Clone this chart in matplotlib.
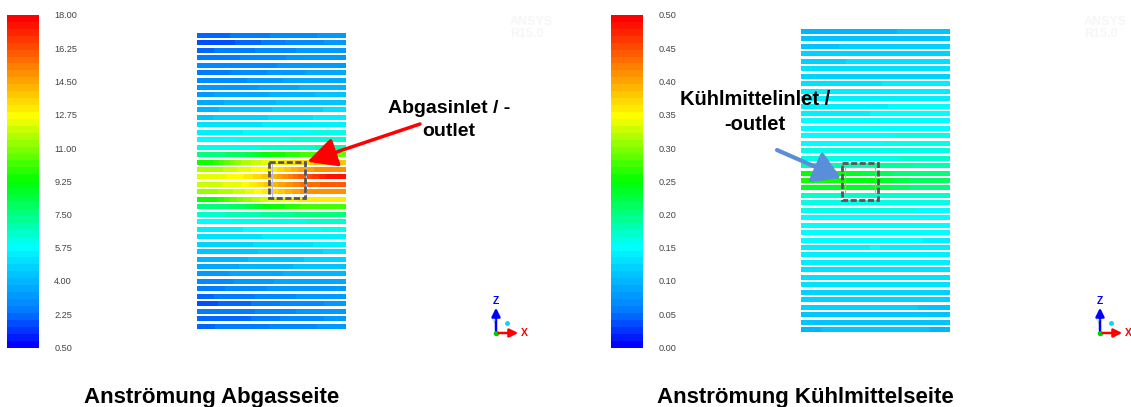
import numpy as np
import matplotlib
matplotlib.use("Agg")
import matplotlib.pyplot as plt
from matplotlib.colors import LinearSegmentedColormap, Normalize
from matplotlib.colorbar import ColorbarBase
from matplotlib.patches import Rectangle

plt.rcParams['font.family'] = ['Liberation Sans', 'DejaVu Sans']

W, H = 1131, 407

## data: stripe values (5 samples from left to right along each stripe)
gas_rows = [
    [2.2, 2.4, 2.7, 3.0, 3.1],
    [1.8, 2.0, 2.5, 2.9, 3.1],
    [2.3, 2.6, 2.8, 3.1, 3.2],
    [2.5, 2.7, 2.9, 3.2, 3.3],
    [2.7, 2.8, 3.0, 3.3, 3.4],
    [2.5, 2.8, 3.1, 3.4, 3.5],
    [2.8, 3.0, 3.3, 3.6, 3.7],
    [3.1, 3.3, 3.5, 3.8, 3.9],
    [3.4, 3.6, 3.8, 4.1, 4.2],
    [3.7, 3.9, 4.1, 4.4, 4.5],
    [4.1, 4.3, 4.5, 4.8, 4.9],
    [4.5, 4.7, 4.9, 5.2, 5.3],
    [4.9, 5.1, 5.3, 5.5, 5.6],
    [5.4, 5.6, 5.7, 5.9, 6.1],
    [5.8, 6.0, 6.2, 6.4, 6.6],
    [6.0, 6.2, 6.4, 6.6, 6.8],
    [7.6, 8.0, 9.3, 10.0, 10.5],
    [9.5, 11.5, 12.5, 13.5, 13.8],
    [11.5, 12.3, 13.0, 14.5, 15.0],
    [12.3, 12.8, 14.0, 16.0, 17.5],
    [12.0, 12.5, 14.0, 15.5, 16.0],
    [11.3, 12.0, 13.3, 14.8, 15.0],
    [9.3, 11.0, 12.3, 13.0, 13.2],
    [7.5, 8.0, 9.3, 10.0, 10.3],
    [6.6, 6.8, 7.2, 7.5, 7.6],
    [5.9, 6.0, 6.1, 6.3, 6.5],
    [5.5, 5.6, 5.7, 5.9, 6.0],
    [5.0, 5.1, 5.3, 5.5, 5.6],
    [4.7, 4.8, 5.0, 5.2, 5.3],
    [4.3, 4.4, 4.6, 4.8, 4.9],
    [3.9, 4.1, 4.3, 4.5, 4.6],
    [3.6, 3.8, 4.0, 4.2, 4.3],
    [3.3, 3.5, 3.7, 3.9, 4.0],
    [2.9, 3.1, 3.4, 3.6, 3.7],
    [2.6, 2.8, 3.1, 3.3, 3.4],
    [2.3, 2.6, 2.8, 3.1, 3.2],
    [1.9, 2.2, 2.6, 2.9, 3.1],
    [2.4, 2.6, 2.8, 3.1, 3.2],
    [2.0, 2.2, 2.6, 2.9, 3.1],
    [2.3, 2.5, 2.7, 3.0, 3.1],
]

cool_rows = [
    [0.100, 0.100, 0.102, 0.105, 0.105],
    [0.108, 0.110, 0.110, 0.112, 0.112],
    [0.113, 0.115, 0.115, 0.117, 0.117],
    [0.118, 0.120, 0.120, 0.122, 0.122],
    [0.123, 0.125, 0.125, 0.127, 0.127],
    [0.128, 0.130, 0.130, 0.132, 0.132],
    [0.115, 0.118, 0.120, 0.122, 0.122],
    [0.133, 0.135, 0.135, 0.137, 0.137],
    [0.138, 0.140, 0.140, 0.142, 0.142],
    [0.138, 0.140, 0.141, 0.142, 0.142],
    [0.143, 0.145, 0.145, 0.147, 0.147],
    [0.143, 0.145, 0.146, 0.147, 0.147],
    [0.148, 0.150, 0.150, 0.152, 0.152],
    [0.148, 0.150, 0.151, 0.152, 0.152],
    [0.153, 0.155, 0.155, 0.157, 0.157],
    [0.153, 0.155, 0.156, 0.157, 0.157],
    [0.158, 0.160, 0.160, 0.162, 0.162],
    [0.163, 0.165, 0.165, 0.167, 0.167],
    [0.180, 0.180, 0.190, 0.190, 0.180],
    [0.240, 0.240, 0.220, 0.200, 0.200],
    [0.250, 0.250, 0.245, 0.220, 0.210],
    [0.235, 0.240, 0.230, 0.210, 0.200],
    [0.170, 0.170, 0.172, 0.170, 0.168],
    [0.160, 0.160, 0.162, 0.160, 0.158],
    [0.157, 0.158, 0.158, 0.157, 0.155],
    [0.155, 0.155, 0.156, 0.155, 0.153],
    [0.152, 0.153, 0.153, 0.152, 0.150],
    [0.150, 0.150, 0.151, 0.150, 0.148],
    [0.147, 0.148, 0.148, 0.147, 0.145],
    [0.145, 0.145, 0.146, 0.145, 0.143],
    [0.140, 0.141, 0.142, 0.141, 0.140],
    [0.137, 0.138, 0.138, 0.137, 0.136],
    [0.133, 0.134, 0.135, 0.134, 0.133],
    [0.130, 0.131, 0.131, 0.130, 0.129],
    [0.126, 0.127, 0.128, 0.127, 0.126],
    [0.122, 0.123, 0.124, 0.123, 0.122],
    [0.118, 0.119, 0.120, 0.119, 0.118],
    [0.115, 0.116, 0.116, 0.115, 0.114],
    [0.111, 0.112, 0.113, 0.112, 0.111],
    [0.108, 0.109, 0.110, 0.109, 0.108],
    [0.104, 0.105, 0.106, 0.105, 0.104],
]

gas_ticks = [0.50, 2.25, 4.00, 5.75, 7.50, 9.25, 11.00, 12.75, 14.50, 16.25, 18.00]
gas_ticklabels = ['0.50', '2.25', '4.00', '5.75', '7.50', '9.25', '11.00', '12.75', '14.50', '16.25', '18.00']
cool_ticks = [0.00, 0.05, 0.10, 0.15, 0.20, 0.25, 0.30, 0.35, 0.40, 0.45, 0.50]
cool_ticklabels = ['0.00', '0.05', '0.10', '0.15', '0.20', '0.25', '0.30', '0.35', '0.40', '0.45', '0.50']

titles = ['Anströmung Abgasseite', 'Anströmung Kühlmittelseite']
notes = ['Abgasinlet / -\noutlet', 'Kühlmittelinlet /\n-outlet']

## colormap (ANSYS rainbow, banded)
cmap = LinearSegmentedColormap.from_list('ansys', [
    (0.0, '#0000ff'), (0.1, '#0078ff'), (0.3, '#00ffff'), (0.5, '#00ff00'),
    (0.7, '#ffff00'), (0.85, '#ff8000'), (1.0, '#ff0000')], N=48)


def rect(x0, y0, x1, y1):
    # pixel box (top-left origin) -> figure fraction rect
    return [x0 / W, 1 - y1 / H, (x1 - x0) / W, (y1 - y0) / H]


def ffrac(x, y):
    return (x / W, 1 - y / H)


fig = plt.figure(figsize=(W / 100, H / 100), dpi=100)


def colorbar(x0, vmin, vmax, ticks, labels):
    cax = fig.add_axes(rect(x0, 15, x0 + 32, 347.5))
    cb = ColorbarBase(cax, cmap=cmap, norm=Normalize(vmin, vmax), orientation='vertical')
    cb.outline.set_visible(False)
    cb.set_ticks(ticks)
    cb.set_ticklabels(labels)
    cax.tick_params(length=0, pad=11, labelsize=6.6, labelcolor='#444444')


def stripes(box, rows, vmin, vmax):
    ax = fig.add_axes(rect(*box))
    n = len(rows)
    norm = Normalize(vmin, vmax)
    for i, vals in enumerate(rows):
        ax.imshow(np.array([vals]), extent=(0, 1, i + 0.27, i - 0.27), cmap=cmap, norm=norm,
                  interpolation='bilinear', interpolation_stage='data', aspect='auto')
    ax.set_xlim(0, 1)
    ax.set_ylim(n - 0.5, -0.5)
    ax.axis('off')
    return ax


def triad(x0):
    tx = fig.add_axes(rect(x0, 298, x0 + 45, 342))
    tx.set_xlim(0, 45)
    tx.set_ylim(0, 44)
    tx.axis('off')
    tx.annotate('', xy=(8, 37), xytext=(8, 9),
                arrowprops=dict(arrowstyle='-|>,head_length=0.5,head_width=0.25', color='#0000ff', lw=1.8))
    tx.annotate('', xy=(33, 9), xytext=(8, 9),
                arrowprops=dict(arrowstyle='-|>,head_length=0.5,head_width=0.25', color='#ff0000', lw=1.8))
    tx.text(8, 36, 'Z', color='#0000ff', fontsize=7.5, fontweight='bold', ha='center', va='bottom')
    tx.text(33, 9, 'X', color='#ff0000', fontsize=7.5, fontweight='bold', ha='left', va='center')
    tx.text(6, 19, 'Y', color='#66cc33', fontsize=5, ha='center', va='center', alpha=0.7)
    tx.plot([8], [9], 'o', color='#00cc00', ms=3)
    tx.plot([19], [19], 'o', color='#00d8ff', ms=2.5)


# left panel: exhaust side
colorbar(7, 0.5, 18.0, gas_ticks, gas_ticklabels)
axl = stripes((197, 32.0, 346, 330.4), gas_rows, 0.5, 18.0)
axl.add_patch(Rectangle((0.50, 17.0), 0.23, 4.9, fill=False, ec='#b8b8e0', lw=0.8))
axl.add_patch(Rectangle((0.483, 16.9), 0.242, 4.9, fill=False, ec='#555555', lw=2.0,
                        ls=(0, (2.2, 0.9))))
axl.annotate('', xy=(0.74, 16.9), xycoords='data', xytext=ffrac(420, 124), textcoords='figure fraction',
             arrowprops=dict(arrowstyle='-|>,head_length=1.0,head_width=0.5', color='#ff0000',
                             lw=2.5, shrinkA=0, shrinkB=0, mutation_scale=18))
fig.text(*ffrac(449, 120), notes[0], fontsize=14, fontweight='bold', ha='center', va='center',
         multialignment='center', linespacing=1.4)

# right panel: coolant side
colorbar(611, 0.0, 0.5, cool_ticks, cool_ticklabels)
axr = stripes((801, 28.3, 949, 333.7), cool_rows, 0.0, 0.5)
axr.add_patch(Rectangle((0.30, 18.1), 0.20, 4.0, fill=False, ec='#ff9090', lw=0.8))
axr.add_patch(Rectangle((0.277, 17.6), 0.243, 4.95, fill=False, ec='#555555', lw=2.0,
                        ls=(0, (2.2, 0.9))))
axr.annotate('', xy=(0.27, 19.6), xycoords='data', xytext=ffrac(777, 150), textcoords='figure fraction',
             arrowprops=dict(arrowstyle='-|>,head_length=0.9,head_width=0.55', color='#5b8ed8',
                             lw=3, shrinkA=0, shrinkB=0, mutation_scale=18))
fig.text(*ffrac(755, 112), notes[1], fontsize=14.5, fontweight='bold', ha='center', va='center',
         multialignment='center', linespacing=1.35)

# coordinate triads and faint logos
triad(488)
triad(1092)
for lx in (510, 1084):
    fig.text(*ffrac(lx, 28), 'ANSYS\nR15.0', fontsize=9, fontweight='bold', color='#f6f6f6',
             ha='left', va='center', linespacing=1.0)

# titles
fig.text(*ffrac(211.5, 403), titles[0], fontsize=16, fontweight='bold', ha='center', va='baseline')
fig.text(*ffrac(805, 403), titles[1], fontsize=16, fontweight='bold', ha='center', va='baseline')

fig.savefig('out.png', dpi=100, facecolor='white')
